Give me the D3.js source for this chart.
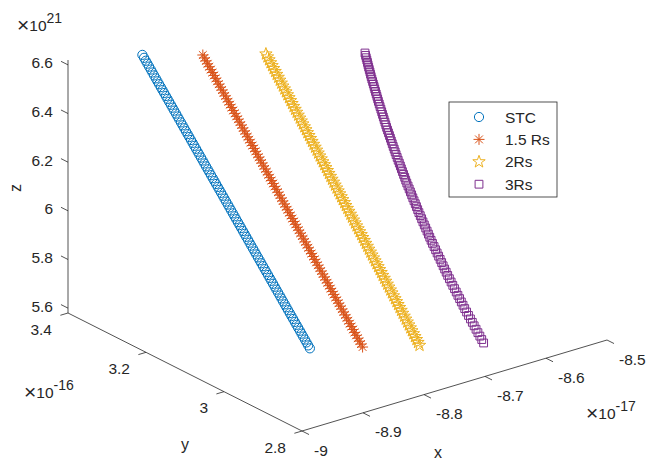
<!DOCTYPE html>
<html>
<head>
<meta charset="utf-8">
<script src="https://cdn.jsdelivr.net/npm/d3@7"></script>
<style>
  body { margin: 0; background: #fff; }
  svg { display: block; font-family: "Liberation Sans", Arial, Helvetica, sans-serif; }
</style>
</head>
<body>
<div id="chart"></div>
<script>
// z values shared by every series (x 10^21)
const zValues = [
  6.60,6.59,6.58,6.57,6.56,6.55,6.54,6.53,6.52,6.51,
  6.50,6.49,6.48,6.47,6.46,6.45,6.44,6.43,6.42,6.41,
  6.40,6.39,6.38,6.37,6.36,6.35,6.34,6.33,6.32,6.31,
  6.30,6.29,6.28,6.27,6.26,6.25,6.24,6.23,6.22,6.21,
  6.20,6.19,6.18,6.17,6.16,6.15,6.14,6.13,6.12,6.11,
  6.10,6.09,6.08,6.07,6.06,6.05,6.04,6.03,6.02,6.01,
  6.00,5.99,5.98,5.97,5.96,5.95,5.94,5.93,5.92,5.91,
  5.90,5.89,5.88,5.87,5.86,5.85,5.84,5.83,5.82,5.81,
  5.80,5.79,5.78,5.77,5.76,5.75,5.74,5.73,5.72,5.71,
  5.70,5.69,5.68,5.67,5.66,5.65,5.64,5.63,5.62,5.61,
  5.60
];

// STC (x 10^-17, x 10^-16)
const stcX = [
  -8.9030,-8.9023,-8.9016,-8.9009,-8.9002,-8.8995,-8.8988,-8.8981,-8.8974,-8.8967,
  -8.8960,-8.8953,-8.8946,-8.8939,-8.8932,-8.8925,-8.8918,-8.8911,-8.8904,-8.8897,
  -8.8890,-8.8883,-8.8876,-8.8869,-8.8862,-8.8855,-8.8848,-8.8841,-8.8834,-8.8827,
  -8.8820,-8.8813,-8.8806,-8.8799,-8.8792,-8.8785,-8.8778,-8.8771,-8.8764,-8.8757,
  -8.8750,-8.8743,-8.8736,-8.8729,-8.8722,-8.8715,-8.8708,-8.8701,-8.8694,-8.8687,
  -8.8680,-8.8673,-8.8666,-8.8659,-8.8652,-8.8645,-8.8638,-8.8631,-8.8624,-8.8617,
  -8.8610,-8.8603,-8.8596,-8.8589,-8.8582,-8.8575,-8.8568,-8.8561,-8.8554,-8.8547,
  -8.8540,-8.8533,-8.8526,-8.8519,-8.8512,-8.8505,-8.8498,-8.8491,-8.8484,-8.8477,
  -8.8470,-8.8463,-8.8456,-8.8449,-8.8442,-8.8435,-8.8428,-8.8421,-8.8414,-8.8407,
  -8.8400,-8.8393,-8.8386,-8.8379,-8.8372,-8.8365,-8.8358,-8.8351,-8.8344,-8.8337,
  -8.8330
];
const stcY = [
  3.3610,3.3578,3.3546,3.3514,3.3482,3.3450,3.3418,3.3386,3.3354,3.3322,
  3.3290,3.3258,3.3226,3.3194,3.3162,3.3130,3.3098,3.3066,3.3034,3.3002,
  3.2970,3.2938,3.2906,3.2874,3.2842,3.2810,3.2778,3.2746,3.2714,3.2682,
  3.2650,3.2618,3.2586,3.2554,3.2522,3.2490,3.2458,3.2426,3.2394,3.2362,
  3.2330,3.2298,3.2266,3.2234,3.2202,3.2170,3.2138,3.2106,3.2074,3.2042,
  3.2010,3.1978,3.1946,3.1914,3.1882,3.1850,3.1818,3.1786,3.1754,3.1722,
  3.1690,3.1658,3.1626,3.1594,3.1562,3.1530,3.1498,3.1466,3.1434,3.1402,
  3.1370,3.1338,3.1306,3.1274,3.1242,3.1210,3.1178,3.1146,3.1114,3.1082,
  3.1050,3.1018,3.0986,3.0954,3.0922,3.0890,3.0858,3.0826,3.0794,3.0762,
  3.0730,3.0698,3.0666,3.0634,3.0602,3.0570,3.0538,3.0506,3.0474,3.0442,
  3.0410
];

// 1.5 Rs
const rs15X = [
  -8.8410,-8.8404,-8.8397,-8.8391,-8.8384,-8.8378,-8.8371,-8.8365,-8.8358,-8.8352,
  -8.8345,-8.8339,-8.8332,-8.8326,-8.8319,-8.8313,-8.8306,-8.8300,-8.8293,-8.8287,
  -8.8280,-8.8274,-8.8267,-8.8261,-8.8254,-8.8248,-8.8241,-8.8235,-8.8228,-8.8222,
  -8.8215,-8.8209,-8.8202,-8.8196,-8.8189,-8.8183,-8.8176,-8.8170,-8.8163,-8.8157,
  -8.8150,-8.8144,-8.8137,-8.8131,-8.8124,-8.8118,-8.8111,-8.8105,-8.8098,-8.8092,
  -8.8085,-8.8079,-8.8072,-8.8066,-8.8059,-8.8053,-8.8046,-8.8040,-8.8033,-8.8027,
  -8.8020,-8.8014,-8.8007,-8.8001,-8.7994,-8.7988,-8.7981,-8.7975,-8.7968,-8.7962,
  -8.7955,-8.7949,-8.7942,-8.7936,-8.7929,-8.7923,-8.7916,-8.7910,-8.7903,-8.7897,
  -8.7890,-8.7884,-8.7877,-8.7871,-8.7864,-8.7858,-8.7851,-8.7845,-8.7838,-8.7832,
  -8.7825,-8.7819,-8.7812,-8.7806,-8.7799,-8.7793,-8.7786,-8.7780,-8.7773,-8.7767,
  -8.7760
];
const rs15Y = [
  3.3030,3.2999,3.2968,3.2938,3.2907,3.2876,3.2845,3.2814,3.2784,3.2753,
  3.2722,3.2691,3.2660,3.2630,3.2599,3.2568,3.2537,3.2506,3.2476,3.2445,
  3.2414,3.2383,3.2352,3.2322,3.2291,3.2260,3.2229,3.2198,3.2168,3.2137,
  3.2106,3.2075,3.2044,3.2014,3.1983,3.1952,3.1921,3.1890,3.1860,3.1829,
  3.1798,3.1767,3.1736,3.1706,3.1675,3.1644,3.1613,3.1582,3.1552,3.1521,
  3.1490,3.1459,3.1428,3.1398,3.1367,3.1336,3.1305,3.1274,3.1244,3.1213,
  3.1182,3.1151,3.1120,3.1090,3.1059,3.1028,3.0997,3.0966,3.0936,3.0905,
  3.0874,3.0843,3.0812,3.0782,3.0751,3.0720,3.0689,3.0658,3.0628,3.0597,
  3.0566,3.0535,3.0504,3.0474,3.0443,3.0412,3.0381,3.0350,3.0320,3.0289,
  3.0258,3.0227,3.0196,3.0166,3.0135,3.0104,3.0073,3.0042,3.0012,2.9981,
  2.9950
];

// 2Rs
const rs2X = [
  -8.7740,-8.7734,-8.7728,-8.7722,-8.7716,-8.7710,-8.7704,-8.7698,-8.7692,-8.7686,
  -8.7680,-8.7674,-8.7668,-8.7662,-8.7656,-8.7650,-8.7644,-8.7638,-8.7632,-8.7626,
  -8.7620,-8.7614,-8.7608,-8.7602,-8.7596,-8.7590,-8.7584,-8.7578,-8.7572,-8.7566,
  -8.7560,-8.7554,-8.7548,-8.7542,-8.7536,-8.7530,-8.7524,-8.7518,-8.7512,-8.7506,
  -8.7500,-8.7494,-8.7488,-8.7482,-8.7476,-8.7470,-8.7464,-8.7458,-8.7452,-8.7446,
  -8.7440,-8.7434,-8.7428,-8.7422,-8.7416,-8.7410,-8.7404,-8.7398,-8.7392,-8.7386,
  -8.7380,-8.7374,-8.7368,-8.7362,-8.7356,-8.7350,-8.7344,-8.7338,-8.7332,-8.7326,
  -8.7320,-8.7314,-8.7308,-8.7302,-8.7296,-8.7290,-8.7284,-8.7278,-8.7272,-8.7266,
  -8.7260,-8.7254,-8.7248,-8.7242,-8.7236,-8.7230,-8.7224,-8.7218,-8.7212,-8.7206,
  -8.7200,-8.7194,-8.7188,-8.7182,-8.7176,-8.7170,-8.7164,-8.7158,-8.7152,-8.7146,
  -8.7140
];
const rs2Y = [
  3.246,3.243,3.240,3.237,3.234,3.231,3.228,3.225,3.222,3.219,
  3.216,3.213,3.210,3.207,3.204,3.201,3.198,3.195,3.192,3.189,
  3.186,3.183,3.180,3.177,3.174,3.171,3.168,3.165,3.162,3.159,
  3.156,3.153,3.150,3.147,3.144,3.141,3.138,3.135,3.132,3.129,
  3.126,3.123,3.120,3.117,3.114,3.111,3.108,3.105,3.102,3.099,
  3.096,3.093,3.090,3.087,3.084,3.081,3.078,3.075,3.072,3.069,
  3.066,3.063,3.060,3.057,3.054,3.051,3.048,3.045,3.042,3.039,
  3.036,3.033,3.030,3.027,3.024,3.021,3.018,3.015,3.012,3.009,
  3.006,3.003,3.000,2.997,2.994,2.991,2.988,2.985,2.982,2.979,
  2.976,2.973,2.970,2.967,2.964,2.961,2.958,2.955,2.952,2.949,
  2.946
];

// 3Rs
const rs3X = [
  -8.6699,-8.6691,-8.6683,-8.6675,-8.6667,-8.6660,-8.6652,-8.6644,-8.6636,-8.6628,
  -8.6620,-8.6614,-8.6607,-8.6601,-8.6594,-8.6588,-8.6581,-8.6575,-8.6568,-8.6562,
  -8.6555,-8.6550,-8.6545,-8.6540,-8.6535,-8.6530,-8.6525,-8.6520,-8.6515,-8.6510,
  -8.6505,-8.6501,-8.6497,-8.6493,-8.6489,-8.6486,-8.6482,-8.6478,-8.6474,-8.6470,
  -8.6466,-8.6463,-8.6461,-8.6458,-8.6455,-8.6453,-8.6450,-8.6447,-8.6444,-8.6442,
  -8.6439,-8.6437,-8.6436,-8.6434,-8.6432,-8.6431,-8.6429,-8.6427,-8.6425,-8.6424,
  -8.6422,-8.6421,-8.6420,-8.6420,-8.6419,-8.6418,-8.6417,-8.6416,-8.6416,-8.6415,
  -8.6414,-8.6413,-8.6413,-8.6413,-8.6413,-8.6413,-8.6413,-8.6414,-8.6414,-8.6414,
  -8.6414,-8.6415,-8.6415,-8.6416,-8.6416,-8.6417,-8.6418,-8.6418,-8.6419,-8.6419,
  -8.6420,-8.6421,-8.6422,-8.6423,-8.6424,-8.6426,-8.6427,-8.6428,-8.6429,-8.6430,
  -8.6431
];
const rs3Y = [
  3.1548,3.1545,3.1541,3.1538,3.1534,3.1531,3.1527,3.1524,3.1520,3.1517,
  3.1513,3.1505,3.1496,3.1488,3.1479,3.1471,3.1463,3.1454,3.1446,3.1437,
  3.1429,3.1416,3.1403,3.1389,3.1376,3.1363,3.1350,3.1337,3.1323,3.1310,
  3.1297,3.1279,3.1261,3.1242,3.1224,3.1206,3.1188,3.1170,3.1151,3.1133,
  3.1115,3.1092,3.1069,3.1045,3.1022,3.0999,3.0976,3.0953,3.0929,3.0906,
  3.0883,3.0855,3.0826,3.0798,3.0769,3.0741,3.0713,3.0684,3.0656,3.0627,
  3.0599,3.0565,3.0532,3.0498,3.0465,3.0431,3.0397,3.0364,3.0330,3.0297,
  3.0263,3.0224,3.0185,3.0146,3.0107,3.0068,3.0029,2.9990,2.9951,2.9912,
  2.9873,2.9828,2.9784,2.9739,2.9695,2.9650,2.9605,2.9561,2.9516,2.9472,
  2.9427,2.9377,2.9327,2.9276,2.9226,2.9176,2.9126,2.9076,2.9025,2.8975,
  2.8925
];

const seriesNames = ["STC", "1.5 Rs", "2Rs", "3Rs"];
const xTicks = [-9, -8.9, -8.8, -8.7, -8.6, -8.5];
const yTicks = [2.8, 3, 3.2, 3.4];
const zTicks = [5.6, 5.8, 6, 6.2, 6.4, 6.6];

(() => {
  const width = 648;
  const height = 459;
  const ink = "#262626";

  const series = [
    { name: seriesNames[0], xs: stcX, ys: stcY, color: "#0072BD", marker: "circle" },
    { name: seriesNames[1], xs: rs15X, ys: rs15Y, color: "#D95319", marker: "asterisk" },
    { name: seriesNames[2], xs: rs2X, ys: rs2Y, color: "#EDB120", marker: "star" },
    { name: seriesNames[3], xs: rs3X, ys: rs3Y, color: "#7E2F8E", marker: "square" },
  ];

  // normalised box coordinates, then a fixed oblique view like matlab's default 3-D view
  const xScale = d3.scaleLinear().domain([-9, -8.5]).range([0, 1]);
  const yScale = d3.scaleLinear().domain([2.8, 3.4]).range([0, 1]);
  const zScale = d3.scaleLinear().domain([5.58, 6.62]).range([0, 1]);
  const origin = [302, 431];
  const ex = [305, -91];
  const ey = [-234, -118];
  const ez = [0, -253];

  const project = (x, y, z) => {
    const a = xScale(x), b = yScale(y), c = zScale(z);
    return [
      origin[0] + a * ex[0] + b * ey[0] + c * ez[0],
      origin[1] + a * ex[1] + b * ey[1] + c * ez[1],
    ];
  };

  const svg = d3
    .select("#chart")
    .append("svg")
    .attr("width", width)
    .attr("height", height)
    .attr("viewBox", `0 0 ${width} ${height}`);

  const [xMin, xMax] = xScale.domain();
  const [yMin, yMax] = yScale.domain();
  const [zMin, zMax] = zScale.domain();

  const line = (p, q) => `M${p[0]},${p[1]}L${q[0]},${q[1]}`;
  const axes = svg.append("g").attr("stroke", ink).attr("stroke-width", 0.8).attr("fill", "none");

  axes.append("path").attr("d", line(project(xMin, yMin, zMin), project(xMax, yMin, zMin)));
  axes.append("path").attr("d", line(project(xMin, yMin, zMin), project(xMin, yMax, zMin)));
  axes.append("path").attr("d", line(project(xMin, yMax, zMin), project(xMin, yMax, zMax)));

  // ticks point out of the box
  axes
    .selectAll("path.xtick")
    .data(xTicks)
    .enter()
    .append("path")
    .attr("class", "xtick")
    .attr("d", (d) => line(project(d, yMin, zMin), project(d, yMin - 0.018, zMin)));
  axes
    .selectAll("path.ytick")
    .data(yTicks)
    .enter()
    .append("path")
    .attr("class", "ytick")
    .attr("d", (d) => line(project(xMin, d, zMin), project(xMin - 0.0125, d, zMin)));
  axes
    .selectAll("path.ztick")
    .data(zTicks)
    .enter()
    .append("path")
    .attr("class", "ztick")
    .attr("d", (d) => line(project(xMin, yMax, d), project(xMin, yMax + 0.018, d)));

  const labels = svg.append("g").attr("fill", ink).attr("font-size", 15.5);

  labels
    .selectAll("text.xlab")
    .data(xTicks)
    .enter()
    .append("text")
    .attr("class", "xlab")
    .attr("x", (d) => project(d, yMin, zMin)[0] + 12)
    .attr("y", (d) => project(d, yMin, zMin)[1] + 19)
    .attr("dominant-baseline", "central")
    .text((d) => String(d));

  labels
    .selectAll("text.ylab")
    .data(yTicks)
    .enter()
    .append("text")
    .attr("class", "ylab")
    .attr("x", (d) => project(xMin, d, zMin)[0] - 16)
    .attr("y", (d) => project(xMin, d, zMin)[1] + 16)
    .attr("text-anchor", "end")
    .attr("dominant-baseline", "central")
    .text((d) => String(d));

  labels
    .selectAll("text.zlab")
    .data(zTicks)
    .enter()
    .append("text")
    .attr("class", "zlab")
    .attr("x", (d) => project(xMin, yMax, d)[0] - 15)
    .attr("y", (d) => project(xMin, yMax, d)[1] - 2)
    .attr("text-anchor", "end")
    .attr("dominant-baseline", "central")
    .text((d) => String(d));

  // exponent labels: a wide times sign, "10", raised power
  const exponent = (x, y, power) => {
    const t = labels.append("text").attr("x", x).attr("y", y);
    t.append("tspan").attr("font-size", 21).attr("dy", 1).text("\u00d7");
    t.append("tspan").attr("font-size", 15.5).attr("dy", -1).text("10");
    t.append("tspan").attr("font-size", 14).attr("dy", -8).text(power);
  };
  exponent(17, 31, "21");
  exponent(24, 398, "-16");
  exponent(586, 419, "-17");

  // axis titles
  labels.append("text").attr("x", 438).attr("y", 452).attr("font-size", 16)
    .attr("text-anchor", "middle").attr("dominant-baseline", "central").text("x");
  labels.append("text").attr("x", 185).attr("y", 444).attr("font-size", 16)
    .attr("text-anchor", "middle").attr("dominant-baseline", "central").text("y");
  labels.append("text").attr("transform", "translate(15,188) rotate(-90)").attr("font-size", 16)
    .attr("text-anchor", "middle").attr("dominant-baseline", "central").text("z");

  // marker shapes
  const starPath = (() => {
    const pts = d3.range(10).map((i) => {
      const r = i % 2 === 0 ? 6.5 : 2.6;
      const a = -Math.PI / 2 + (i * Math.PI) / 5;
      return [r * Math.cos(a), r * Math.sin(a)];
    });
    return "M" + pts.map((p) => p.join(",")).join("L") + "Z";
  })();
  const shapes = {
    circle: d3.symbol().type(d3.symbolCircle).size(Math.PI * 4.6 * 4.6)(),
    asterisk: "M-5.5,0H5.5M0,-5.5V5.5M-3.9,-3.9L3.9,3.9M-3.9,3.9L3.9,-3.9",
    star: starPath,
    square: "M-3.9,-3.9H3.9V3.9H-3.9Z",
  };

  const plot = svg.append("g");
  series.forEach((s) => {
    plot
      .append("g")
      .attr("fill", "none")
      .attr("stroke", s.color)
      .attr("stroke-width", 1)
      .selectAll("path")
      .data(zValues.map((z, i) => project(s.xs[i], s.ys[i], z)))
      .enter()
      .append("path")
      .attr("transform", (p) => `translate(${p[0]},${p[1]})`)
      .attr("d", shapes[s.marker]);
  });

  // legend
  const legend = svg.append("g").attr("transform", "translate(449,102)");
  legend
    .append("rect")
    .attr("width", 108)
    .attr("height", 95)
    .attr("fill", "#fff")
    .attr("stroke", ink)
    .attr("stroke-width", 0.8);
  const rows = legend
    .selectAll("g.row")
    .data(series)
    .enter()
    .append("g")
    .attr("class", "row")
    .attr("transform", (d, i) => `translate(0,${15 + i * 22.4})`);
  rows
    .append("path")
    .attr("transform", "translate(30,0)")
    .attr("d", (d) => shapes[d.marker])
    .attr("fill", "none")
    .attr("stroke", (d) => d.color)
    .attr("stroke-width", 1);
  rows
    .append("text")
    .attr("x", 56)
    .attr("dominant-baseline", "central")
    .attr("font-size", 15.5)
    .attr("fill", ink)
    .text((d) => d.name);
})();
</script>
</body>
</html>
